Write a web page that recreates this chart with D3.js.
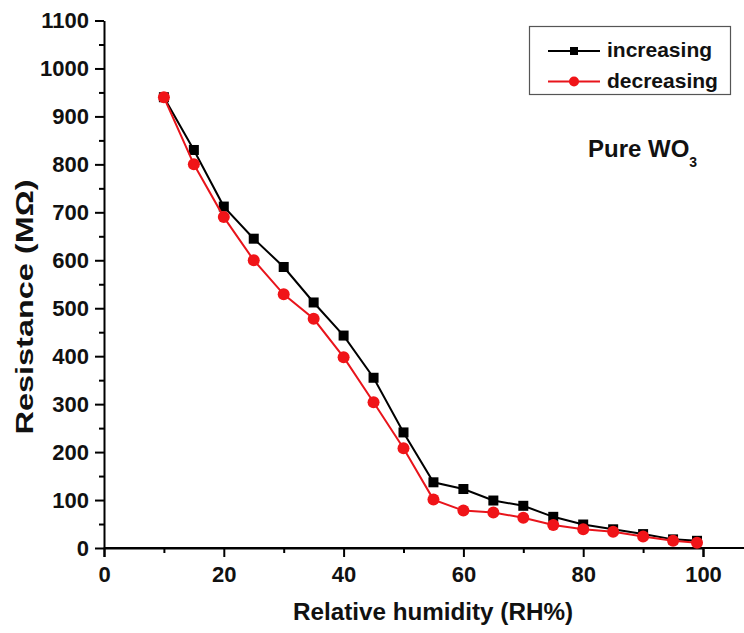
<!DOCTYPE html>
<html>

<head>
  <meta charset='utf-8'>
  <title>Pure WO3 humidity</title>
  <script type='text/javascript' src='https://cdn.jsdelivr.net/npm/d3@7'></script>
  <style>
    body { margin: 0; background: #fff; }
    text { font-family: 'Liberation Sans', Arial, sans-serif; font-weight: bold; }
  </style>
</head>

<body>
  <script type='text/javascript'>
    // data
    const humidity = [10, 15, 20, 25, 30, 35, 40, 45, 50, 55, 60, 65, 70, 75, 80, 85, 90, 95, 99];
    const increasing = [940, 830, 712, 645, 586, 512, 443, 355, 241, 137, 123, 99, 88, 65, 49, 39, 29, 18, 15];
    const decreasing = [940, 800, 690, 600, 529, 478, 398, 304, 208, 101, 78, 74, 63, 48, 39, 34, 24, 15, 11];
    const xTicks = [0, 20, 40, 60, 80, 100];
    const yTicks = [0, 100, 200, 300, 400, 500, 600, 700, 800, 900, 1000, 1100];

    const width = 744;
    const height = 633;

    const svg = d3.select('body').append('svg')
      .attr('width', width)
      .attr('height', height);

    const x = d3.scaleLinear().domain([0, 100]).range([104, 703]);
    const y = d3.scaleLinear().domain([0, 1100]).range([548, 20.5]);

    // axes
    const xAxis = svg.append('g')
      .attr('transform', `translate(0,${y(0)})`)
      .call(d3.axisBottom(x).tickValues(xTicks).tickSize(9).tickPadding(6).tickFormat(d3.format('d')));
    svg.append('g')
      .attr('transform', `translate(0,${y(0)})`)
      .call(d3.axisBottom(x).tickValues(d3.range(10, 110, 20)).tickSize(5).tickFormat(''))
      .call(g => g.select('.domain').remove());
    svg.append('line')
      .attr('x1', x(0)).attr('x2', width)
      .attr('y1', y(0)).attr('y2', y(0))
      .attr('stroke', '#000').attr('stroke-width', 2);

    const yAxis = svg.append('g')
      .attr('transform', `translate(${x(0)},0)`)
      .call(d3.axisLeft(y).tickValues(yTicks).tickSize(9).tickPadding(6).tickSizeOuter(0).tickFormat(d3.format('d')));
    svg.append('g')
      .attr('transform', `translate(${x(0)},0)`)
      .call(d3.axisLeft(y).tickValues(d3.range(50, 1100, 100)).tickSize(5).tickFormat(''))
      .call(g => g.select('.domain').remove());

    svg.selectAll('.domain').attr('stroke-width', 2);
    svg.selectAll('.tick line').attr('stroke-width', 2);
    svg.selectAll('.tick text')
      .style('font-size', '22px')
      .attr('fill', '#111');
    xAxis.selectAll('.tick text').attr('dy', '0.85em');

    // axis titles (glyphs a bit wider than Arial in the source)
    svg.append('text')
      .attr('x', 433).attr('y', 620)
      .attr('text-anchor', 'middle')
      .attr('font-size', 23)
      .attr('textLength', 280)
      .attr('lengthAdjust', 'spacingAndGlyphs')
      .attr('fill', '#111')
      .text('Relative humidity (RH%)');
    svg.append('text')
      .attr('transform', 'translate(33,307) rotate(-90)')
      .attr('text-anchor', 'middle')
      .attr('font-size', 24)
      .attr('textLength', 255)
      .attr('lengthAdjust', 'spacingAndGlyphs')
      .attr('fill', '#111')
      .text('Resistance (MΩ)');

    const line = d3.line().x((d, i) => x(humidity[i])).y(d => y(d));

    svg.append('path')
      .datum(increasing)
      .attr('fill', 'none').attr('stroke', '#000').attr('stroke-width', 2)
      .attr('d', line);
    svg.append('g').selectAll('rect')
      .data(increasing)
      .join('rect')
      .attr('x', (d, i) => x(humidity[i]) - 5)
      .attr('y', d => y(d) - 5)
      .attr('width', 10).attr('height', 10)
      .attr('fill', '#000');

    svg.append('path')
      .datum(decreasing)
      .attr('fill', 'none').attr('stroke', '#e8141b').attr('stroke-width', 2)
      .attr('d', line);
    svg.append('g').selectAll('circle')
      .data(decreasing)
      .join('circle')
      .attr('cx', (d, i) => x(humidity[i]))
      .attr('cy', d => y(d))
      .attr('r', 6)
      .attr('fill', '#f01418');

    // legend
    const legend = svg.append('g');
    legend.append('rect')
      .attr('x', 529.5).attr('y', 26.5)
      .attr('width', 201).attr('height', 68)
      .attr('fill', '#fff').attr('stroke', '#555').attr('stroke-width', 1.2);
    const rows = [
      { name: 'increasing', color: '#000', y: 51 },
      { name: 'decreasing', color: '#e8141b', y: 81.5 }
    ];
    rows.forEach(r => {
      legend.append('line')
        .attr('x1', 548).attr('x2', 600)
        .attr('y1', r.y).attr('y2', r.y)
        .attr('stroke', r.color).attr('stroke-width', 2);
      if (r.name === 'increasing') {
        legend.append('rect')
          .attr('x', 570).attr('y', r.y - 4)
          .attr('width', 8).attr('height', 8).attr('fill', '#000');
      } else {
        legend.append('circle')
          .attr('cx', 574).attr('cy', r.y).attr('r', 5).attr('fill', '#f01418');
      }
      legend.append('text')
        .attr('x', 607).attr('y', r.y + 6)
        .attr('font-size', 21)
        .attr('fill', '#111')
        .text(r.name);
    });

    // annotation
    const note = svg.append('text')
      .attr('x', 588).attr('y', 157)
      .attr('font-size', 24)
      .attr('fill', '#111')
      .text('Pure WO');
    note.append('tspan')
      .attr('font-size', 14)
      .attr('dy', 10)
      .text('3');
  </script>
</body>

</html>
